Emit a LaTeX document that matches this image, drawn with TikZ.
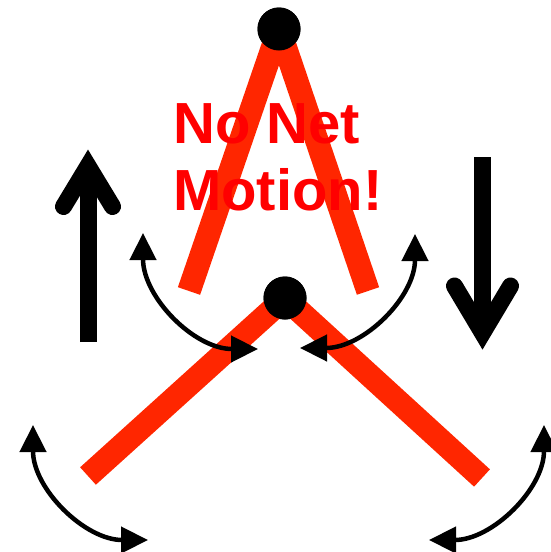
\documentclass[tikz,border=0pt]{standalone}
\usepackage{fontspec}
\setmainfont{Liberation Sans}
\usetikzlibrary{arrows.meta}
\definecolor{legred}{RGB}{255,38,0}
\definecolor{txtred}{RGB}{255,0,0}
\begin{document}
\begin{tikzpicture}[x=1pt,y=-1pt,
  leg/.style={draw=legred,line width=23.5pt,line cap=butt},
  joint/.style={circle,fill=black,inner sep=0pt,minimum size=43pt},
  bigarrow/.style={draw=black,line width=17pt},
  wing/.style={draw=black,line width=17pt,line cap=round,miter limit=10},
  swing/.style={draw=black,line width=4.5pt,{Triangle[length=27pt,width=26pt]}-{Triangle[length=27pt,width=26pt]}},
  label/.style={anchor=base west,inner sep=0pt,text=txtred,font=\bfseries\fontsize{58}{67}\selectfont}]
\useasboundingbox (0,0) rectangle (550,552);
% top A
\coordinate (tl) at (189,291);
\coordinate (tr) at (368,291);
\node[joint] (top) at (279,29) {};
\draw[leg] (top.center) -- (tl);
\draw[leg] (top.center) -- (tr);
\node[joint] at (279,29) {};
% bottom V
\coordinate (bl) at (88,476);
\coordinate (br) at (482,478);
\node[joint] (bot) at (285,298) {};
\draw[leg] (bot.center) -- (bl);
\draw[leg] (bot.center) -- (br);
\node[joint] at (285,298) {};
% text
\node[label] (t1) at (173,143) {No Net};
\node[label] (t2) at (173,210) {Motion!};
% big up arrow
\coordinate (ua) at (88,342);
\coordinate (ub) at (88,170);
\coordinate (uv) at (88,166);
\coordinate (uwl) at (63.5,206.5);
\coordinate (uwr) at (112.5,206.5);
\draw[bigarrow] (ua) -- (ub);
\draw[wing] (uwl) -- (uv) -- (uwr);
% big down arrow
\coordinate (da) at (482.5,157);
\coordinate (db) at (482.5,330);
\coordinate (dv) at (482.5,333);
\coordinate (dwl) at (454.5,286);
\coordinate (dwr) at (510.5,286);
\draw[bigarrow] (da) -- (db);
\draw[wing] (dwl) -- (dv) -- (dwr);
% swing arrows
\coordinate (a1s) at (143,233);
\coordinate (a1e) at (258,349);
\draw[swing] (a1s) .. controls (143,297) and (194,349) .. (a1e);
\coordinate (a2s) at (415,234);
\coordinate (a2e) at (300,348);
\draw[swing] (a2s) .. controls (415,297) and (364,348) .. (a2e);
\coordinate (a3s) at (33,425);
\coordinate (a3e) at (148,540);
\draw[swing] (a3s) .. controls (33,489) and (85,540) .. (a3e);
\coordinate (a4s) at (544,425);
\coordinate (a4e) at (429,540);
\draw[swing] (a4s) .. controls (544,489) and (492,540) .. (a4e);
\end{tikzpicture}
\end{document}
